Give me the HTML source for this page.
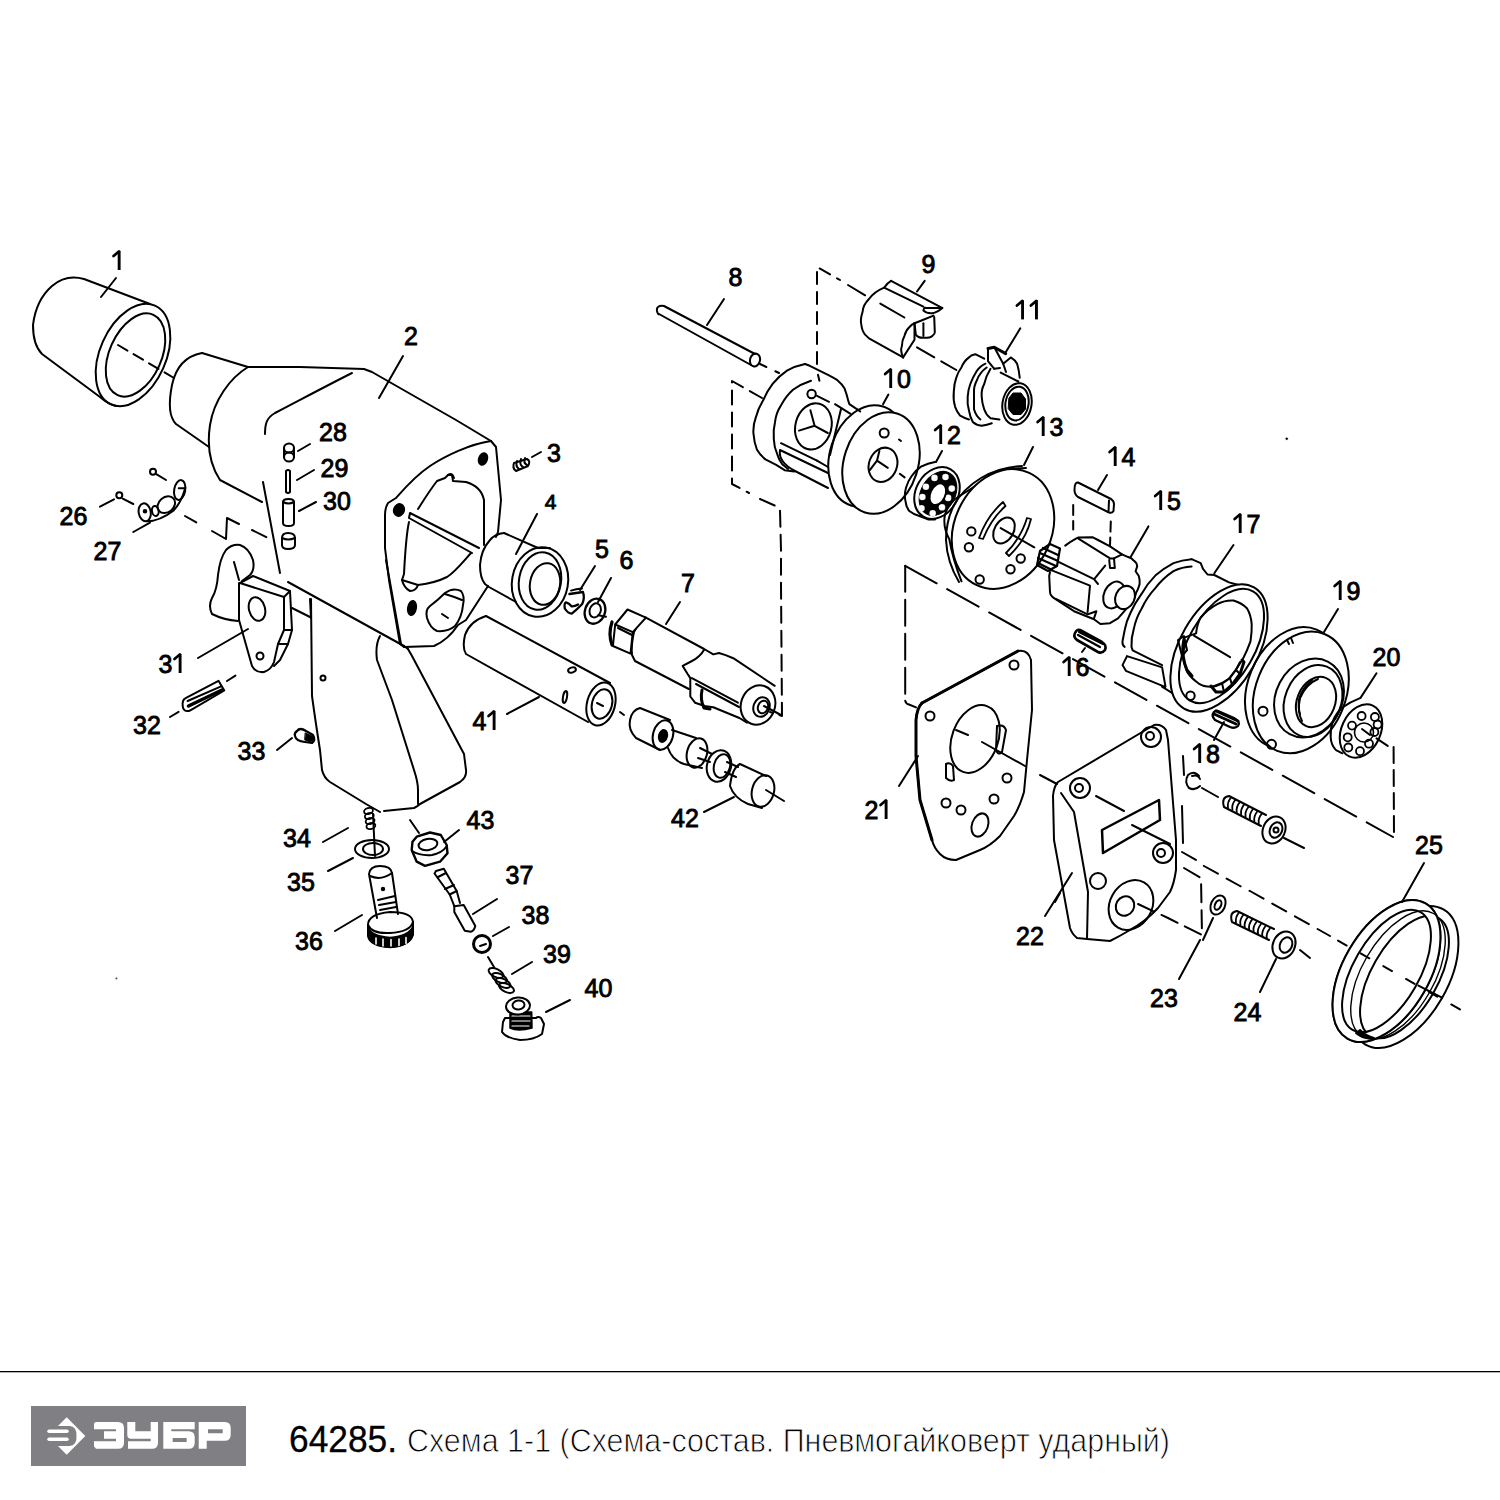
<!DOCTYPE html>
<html><head><meta charset="utf-8"><style>
html,body{margin:0;padding:0;background:#fff;width:1500px;height:1500px;overflow:hidden}
svg{position:absolute;left:0;top:0}
.lb text{font-family:"Liberation Sans",sans-serif;font-size:25px;fill:#000;stroke:#000;stroke-width:0.9px;text-anchor:middle}
</style></head><body>
<svg width="1500" height="1500" viewBox="0 0 1500 1500">
<g stroke="#000" stroke-linecap="round" stroke-linejoin="round" fill="none">
<path d="M150,304 L84,279 Q66,274 52,286 Q36,300 33,325 Q33,345 42,354 L100,397 Q108,404 116,406" stroke-width="2" fill="none" />
<ellipse cx="133" cy="355" rx="33" ry="54" transform="rotate(24 133 355)" stroke-width="2" fill="none"/>
<ellipse cx="135.5" cy="355" rx="26" ry="44" transform="rotate(24 135.5 355)" stroke-width="2" fill="none"/>
<path d="M116,278 L101,297" stroke-width="2" fill="none" />
<path d="M118,345 L174,378" stroke-width="2" fill="none" stroke-dasharray="11 7"/>
<path d="M202,353 C186,356 176,366 172,385 C168,405 170,418 176,424 L209,447" stroke-width="2" fill="none" />
<path d="M202,353 L248,367 L300,367 L364,369 L372,372 L456,420 L491,441" stroke-width="2" fill="none" />
<path d="M248,367 C230,378 214,400 210,425 C207,445 210,465 220,480 L262,502" stroke-width="2" fill="none" />
<path d="M352,373 C330,384 300,400 275,413 C266,418 265,425 265,434" stroke-width="2" fill="none" />
<path d="M263,482 L280,573" stroke-width="2" fill="none" />
<path d="M491,441 C470,444 445,456 430,466 C415,476 403,490 396,498 L388,503 Q385,508 385,515 L385,548 L389,580 L400,644 L404,647" stroke-width="2" fill="none" />
<path d="M491,441 L496,447 L498,468 L501,500 L498,532 L496,537" stroke-width="2" fill="none" />
<path d="M404,647 L434,646 Q448,640 458,625 L466,620 L488,586" stroke-width="2" fill="none" />
<ellipse cx="483" cy="459" rx="4" ry="6" transform="rotate(20 483 459)" stroke-width="2" fill="#000"/>
<ellipse cx="399" cy="510" rx="5" ry="6" transform="rotate(20 399 510)" stroke-width="2" fill="#000"/>
<ellipse cx="412" cy="608" rx="4" ry="7" transform="rotate(10 412 608)" stroke-width="2" fill="#000"/>
<path d="M418,509 C425,498 430,490 437,481 L445,478 L448,475 L452,475 L453,481 L466,482 C476,485 482,490 484,500 L484,545" stroke-width="2" fill="none" />
<path d="M448,475 Q452,472 454,478" stroke-width="2" fill="none" />
<path d="M410,513 L479,548 M409,518 L472,553 M410,513 L409,518" stroke-width="2" fill="none" />
<path d="M409,522 C406,535 405,555 404,574 L402,580 Q404,588 410,591 Q416,591 418,585 Q435,583 447,577 C455,572 462,563 471,553" stroke-width="2" fill="none" />
<path d="M402,580 L418,585" stroke-width="2" fill="none" />
<path d="M445,593 Q453,587 461,591 Q465,596 463,605 Q462,617 455,626 Q448,632 437,631 Q430,628 427,618 Q425,610 430,606 Q438,600 445,593 Z" stroke-width="2" fill="none" />
<path d="M445,594 Q455,597 462,600" stroke-width="2" fill="none" />
<path d="M442,614 L448,618" stroke-width="2" fill="none" />
<path d="M288,582 L404,646" stroke-width="2" fill="none" />
<path d="M404,646 L408,649" stroke-width="2" fill="none" />
<path d="M386,560 L401,644" stroke-width="2" fill="none" />
<path d="M311,599 L312,696 Q316,725 320,750 L322,770 Q324,778 330,782 L366,804 L380,812" stroke-width="2" fill="none" />
<path d="M384,811 L414,808 Q418,806 420,804 L460,782 Q467,777 466,770 L464,754 L412,656 L408,649" stroke-width="2" fill="none" />
<path d="M380,636 Q375,645 377,660 L392,700 L414,770 Q418,782 418,790 L418,804" stroke-width="2" fill="none" />
<circle cx="323" cy="678" r="2.5" stroke-width="2" fill="none"/>
<path d="M292,608 L310,617" stroke-width="2" fill="none" />
<path d="M310,599 L311,618" stroke-width="2" fill="none" />
<path d="M403,356 L379,398" stroke-width="2" fill="none" />
<ellipse cx="289" cy="448" rx="5" ry="4.5" stroke-width="2" fill="none"/>
<ellipse cx="289" cy="457" rx="5" ry="4.5" stroke-width="2" fill="none"/>
<path d="M284,448 L284,457 M294,448 L294,457" stroke-width="2" fill="none" />
<path d="M286,471 L286,492 Q288,494 290,492 L290,471 Q288,469 286,471 Z" stroke-width="2" fill="none" />
<path d="M283,502 Q283,499 288.5,499 Q294,499 294,502 L294,523 Q294,526 288.5,526 Q283,526 283,523 Z" stroke-width="2" fill="none" />
<path d="M283,502 Q288.5,505 294,502" stroke-width="2" fill="none" />
<path d="M282,538 Q282,533 288,533 Q295,533 295,538 L295,545 Q295,549 288,549 Q282,549 282,545 Z" stroke-width="2" fill="none" />
<path d="M282,538 Q288,541 295,538" stroke-width="2" fill="none" />
<path d="M298,451 L310,444" stroke-width="2" fill="none" />
<path d="M297,480 L314,470" stroke-width="2" fill="none" />
<path d="M299,511 L316,502" stroke-width="2" fill="none" />
<circle cx="153" cy="471.7" r="3" stroke-width="2" fill="none"/>
<path d="M156.7,474.3 L166,480" stroke-width="2" fill="none" />
<circle cx="119.3" cy="495.3" r="3" stroke-width="2" fill="none"/>
<path d="M122.7,498.7 L133.3,504" stroke-width="2" fill="none" />
<ellipse cx="144.7" cy="512.3" rx="6" ry="9" transform="rotate(-10 144.7 512.3)" stroke-width="2" fill="none"/>
<circle cx="145" cy="511.3" r="1.3" stroke-width="2" fill="#000"/>
<ellipse cx="155.3" cy="511" rx="3.3" ry="5" transform="rotate(-10 155.3 511)" stroke-width="2" fill="none"/>
<ellipse cx="166.3" cy="504.7" rx="7.5" ry="9.5" transform="rotate(50 166.3 504.7)" stroke-width="2" fill="none"/>
<ellipse cx="179.7" cy="490" rx="5.5" ry="10" transform="rotate(10 179.7 490)" stroke-width="2" fill="none"/>
<path d="M146.7,521.3 Q160,521 173.3,510.7 Q181,503 185.3,488" stroke-width="2" fill="none" />
<path d="M178.7,488.3 L184.7,488.3" stroke-width="2" fill="none" />
<path d="M100,506.7 L114,499.3" stroke-width="2" fill="none" />
<path d="M133.3,532 L150,522.7" stroke-width="2" fill="none" />
<path d="M185,516 L201,525" stroke-width="2" fill="none" stroke-dasharray="13 20"/>
<path d="M212,531 L226,539 L227,518 L239,524" stroke-width="2" fill="none" />
<path d="M252,530 L268,538" stroke-width="2" fill="none" stroke-dasharray="16 6"/>
<path d="M238,621 Q224,620 212,614 Q208,606 212,598 Q217,590 218,575 Q220,558 226,550 Q232,544 240,545 Q249,548 253,560 Q255,570 250,575 L242,581" stroke-width="2" fill="none" />
<path d="M234,562 L239,580" stroke-width="2" fill="none" />
<path d="M240,583 L253,576 L290,591 L284,597 Z" stroke-width="2" fill="none" />
<path d="M239,583 L239,620 L252,666 Q256,673 264,672 Q271,670 274,662 L278,644 L284,630 L284,597" stroke-width="2" fill="none" />
<path d="M290,591 L292,630 L288,644 L280,660 L274,666" stroke-width="2" fill="none" />
<path d="M284,630 L292,630 M278,644 L288,644" stroke-width="2" fill="none" />
<ellipse cx="257" cy="609" rx="8" ry="12" transform="rotate(-15 257 609)" stroke-width="2" fill="none"/>
<circle cx="260" cy="656" r="3.5" stroke-width="2" fill="none"/>
<path d="M198,658 L248,629" stroke-width="2" fill="none" />
<path d="M185.6,698.2 L218.5,680.8 L224.3,690.5 L189.5,710.8 Q183,712 182.7,706 Q182,700 185.6,698.2 Z" stroke-width="2" fill="none" />
<path d="M187.6,701 L220.5,686.6" stroke-width="2" fill="none" />
<path d="M188.5,706 L222,690" stroke-width="3.5" fill="none" />
<path d="M170,717 L180,711" stroke-width="2" fill="none" stroke-dasharray="10 5"/>
<path d="M227,681 L238,674" stroke-width="2" fill="none" stroke-dasharray="10 5"/>
<path d="M297,731 Q300,727 306,731 L313,735 Q316,740 312,743 L305,742 Q296,741 295,736 Q294,733 297,731 Z" stroke-width="2.2" fill="none" />
<path d="M305.5,733 L313,736.5 Q314,741 310,742 L305,740 Z" stroke-width="1" fill="#000" />
<path d="M277,750 L292,738" stroke-width="2" fill="none" />
<circle cx="116.4" cy="978.4" r="0.9" stroke-width="0.1" fill="#555"/>
<path d="M514,463 Q512,468 516,471 L528,466 Q531,461 527,459 Z" stroke-width="2" fill="none" />
<path d="M517,461 Q515,466 519,469 M521,459 Q519,465 523,467 M525,458 Q523,463 527,465" stroke-width="2" fill="none" />
<path d="M532,457 L541,452" stroke-width="2" fill="none" />
<path d="M504,533 Q495,534 490,540 Q481,550 480,565 Q480,578 485,584 L489,587 L516,602" stroke-width="2" fill="none" />
<path d="M504,533 L538,548 L550,548" stroke-width="2" fill="none" />
<ellipse cx="540" cy="582" rx="28" ry="35" transform="rotate(10 540 582)" stroke-width="2" fill="none"/>
<ellipse cx="540" cy="581" rx="21" ry="29" transform="rotate(10 540 581)" stroke-width="2" fill="none"/>
<ellipse cx="545" cy="584" rx="15" ry="21" transform="rotate(10 545 584)" stroke-width="2" fill="none"/>
<path d="M537,514 L516,554" stroke-width="2" fill="none" />
<path d="M569.4,594 L583,592 Q585,598 582.2,604 Q577,609.5 571.8,613.6 Q568,613.5 564.8,608.5 Q564,603 566,602.4 Q569,603 571.8,606.4 Q575,606.5 578,604.5" stroke-width="2.3" fill="none" />
<path d="M571,590.6 Q576,589.2 582,588.6" stroke-width="2" fill="none" />
<path d="M595,566 L580,590" stroke-width="2" fill="none" />
<ellipse cx="595" cy="611.2" rx="10" ry="12.8" transform="rotate(20 595 611.2)" stroke-width="2.3" fill="none"/>
<ellipse cx="595.2" cy="610.4" rx="5.5" ry="7.2" transform="rotate(20 595.2 610.4)" stroke-width="2" fill="none"/>
<path d="M611,578 L598,602" stroke-width="2" fill="none" />
<path d="M598.3,615.3 L606,616.8" stroke-width="2" fill="none" />
<path d="M645.9,617.6 Q638,623 634,632 Q631,645 632,655 L635,661 L688.8,689" stroke-width="2" fill="none" />
<path d="M615.2,624.5 L627.5,609.5 L645.9,617.6 L632.8,632.1 Z" stroke-width="2" fill="#fff" />
<path d="M615.2,624.5 L612.9,646 L630.5,653.6 L632.8,632.1" stroke-width="2" fill="none" />
<path d="M612,622 Q608,634 612,645" stroke-width="3.2" fill="none" />
<path d="M618,628 L632,635" stroke-width="2" fill="none" />
<path d="M645.9,617.6 L704.1,649 L713.3,654.4 L719,653 L725.6,655.1 L733.3,658.2 L774.7,685.8" stroke-width="2" fill="none" />
<path d="M704.1,649.8 Q700,657 692,661 L682.7,665.9 L687.3,673.5 L690.3,678.1 L690.3,696.5 L695,702.7 L704.1,705.7" stroke-width="2" fill="none" />
<path d="M691.9,678.1 L737.9,702.7 M696,684 L739,707" stroke-width="2" fill="none" />
<path d="M702,690 Q700,700 704,708 L710,709" stroke-width="3" fill="none" />
<path d="M704,706 L713.3,707.3 L739.4,718 L747,722.6" stroke-width="2" fill="none" />
<ellipse cx="758" cy="705" rx="17" ry="20" transform="rotate(20 758 705)" stroke-width="2" fill="#fff"/>
<ellipse cx="761.5" cy="707" rx="8" ry="10" transform="rotate(20 761.5 707)" stroke-width="2" fill="none"/>
<ellipse cx="763" cy="707" rx="5" ry="6.5" transform="rotate(20 763 707)" stroke-width="2" fill="none"/>
<path d="M764,706 L781,715" stroke-width="2" fill="none" />
<path d="M680,602 L666,624" stroke-width="2" fill="none" />
<path d="M486,616 Q470,621 465,635 Q462,648 466,654 L588,722" stroke-width="2" fill="none" />
<path d="M486,616 L610,683" stroke-width="2" fill="none" />
<ellipse cx="601" cy="704" rx="14" ry="22" transform="rotate(15 601 704)" stroke-width="2" fill="none"/>
<ellipse cx="602" cy="704" rx="10" ry="15" transform="rotate(15 602 704)" stroke-width="2" fill="none"/>
<path d="M597,703 L603,706" stroke-width="2" fill="none" />
<ellipse cx="572" cy="670" rx="4" ry="2.5" transform="rotate(-20 572 670)" stroke-width="2" fill="none"/>
<ellipse cx="565" cy="697" rx="2" ry="6" transform="rotate(10 565 697)" stroke-width="2" fill="none"/>
<path d="M507,714 L539,697" stroke-width="2" fill="none" />
<path d="M620,712 L624,715" stroke-width="2" fill="none" />
<path d="M640,708 L670,720 M630,720 Q628,730 636,738 L660,750 M640,708 Q632,710 630,720" stroke-width="2" fill="none" />
<ellipse cx="663" cy="735" rx="10" ry="15" transform="rotate(15 663 735)" stroke-width="2" fill="none"/>
<ellipse cx="663" cy="736" rx="4" ry="6" transform="rotate(15 663 736)" stroke-width="2" fill="#000"/>
<path d="M672,730 L696,738 M668,748 Q672,760 684,764 L702,768" stroke-width="2" fill="none" />
<ellipse cx="697" cy="753" rx="10" ry="15" transform="rotate(15 697 753)" stroke-width="2" fill="none"/>
<path d="M700,748 L712,754 M698,758 L710,762" stroke-width="2" fill="none" />
<ellipse cx="719" cy="766" rx="12" ry="16" transform="rotate(15 719 766)" stroke-width="2" fill="none"/>
<ellipse cx="722" cy="766" rx="8" ry="12" transform="rotate(15 722 766)" stroke-width="2" fill="none"/>
<path d="M727,762 L738,767 M725,772 L736,777" stroke-width="2" fill="none" />
<path d="M740,764 L766,776 M730,786 Q734,798 748,804 L762,808 M740,764 Q732,768 730,786" stroke-width="2" fill="none" />
<ellipse cx="763" cy="791" rx="11" ry="16" transform="rotate(15 763 791)" stroke-width="2" fill="none"/>
<path d="M766,790 L784,801" stroke-width="2" fill="none" />
<path d="M704,812 L734,797" stroke-width="2" fill="none" />
<path d="M664,306 L755,354 M659,314 L751,365 M664,306 Q656,305 657,311 Q658,315 659,314" stroke-width="2" fill="none" />
<ellipse cx="755" cy="360" rx="5" ry="6.5" transform="rotate(15 755 360)" stroke-width="2" fill="none"/>
<path d="M760,364 L779,373" stroke-width="2" fill="none" stroke-dasharray="7 10"/>
<path d="M724,299 L707,325" stroke-width="2" fill="none" />
<path d="M817,364 L817,267 L840,280" stroke-width="2" fill="none" stroke-dasharray="12 8"/>
<path d="M848,285 L868,297" stroke-width="2" fill="none" stroke-dasharray="20 6"/>
<path d="M762,398 L732,381 L732,484 L749,493" stroke-width="2" fill="none" stroke-dasharray="14 8"/>
<path d="M760,499 L778,507 L780,510 L781,550 L781,586 L782,716 L770,712" stroke-width="2" fill="none" stroke-dasharray="16 8"/>
<path d="M891.1,280.8 L941.1,307.4 L942.4,308 Q938,312 933.5,313.1 Q927,314 923.4,310.5 Q924,307 926,308 L941,308" stroke-width="2" fill="none" />
<path d="M891.1,280.8 Q887,283 884.1,287.7 L923.4,306.7" stroke-width="2" fill="none" />
<path d="M884.1,287.7 Q874,292 869,299 Q863,305 862.6,311.8 Q860,320 861.3,324.5 Q862,331 865.1,334.6 L869,338.4 L903.1,357.4" stroke-width="2" fill="none" />
<path d="M903.1,357.4 Q900,351 901.9,346 Q902,340 904.4,335.9 Q906,330 909.5,327 Q912,324 914.5,323.2 L920.9,320.7 L933.5,315.6" stroke-width="2" fill="none" />
<path d="M903.1,357.4 L914.5,339.7 L914.5,323.2" stroke-width="2" fill="none" />
<path d="M914.5,323.2 L915.8,334.6 Q918,338 923.4,337.8 Q930,338 932.3,335.9 Q935,334 934.8,332.1 L934.2,316.9" stroke-width="2" fill="none" />
<path d="M923.4,323.2 L923.4,335.9" stroke-width="2" fill="none" />
<path d="M880.3,303.6 L904.4,317.5" stroke-width="2" fill="none" />
<path d="M924.7,280.8 L917,291.5" stroke-width="2" fill="none" />
<path d="M917,347.3 L956.3,370" stroke-width="2" fill="none" stroke-dasharray="20 8"/>
<path d="M805,364 Q795,366 787,370.6 Q779,376 772.6,383.8 Q767,391 763,400.6 Q758,409 755.8,417.4 Q753,425 753.4,433 Q754,442 757,449.8 Q760,455 765.4,459.4 L776.2,464.8 L784.6,470.2 L794.2,471.4" stroke-width="2" fill="none" />
<path d="M805,364 L809.8,365.8 L829,375.4 Q834,378 837.4,380.2 Q842,384 844.6,388.6 Q847,395 848.2,400.6 L849.4,404.2 L860.2,411.4" stroke-width="2" fill="none" />
<path d="M818,374.8 L819.4,380.8" stroke-width="2" fill="none" />
<path d="M811,380.8 Q801,384 793,389.8 Q786,396 781,405.4 Q776,413 775,422.2 Q773,430 773.8,439 Q774,447 777.4,454.6 Q779,460 782.2,464.2 L788.2,469" stroke-width="2" fill="none" />
<circle cx="811.6" cy="394" r="4.2" stroke-width="2" fill="none"/>
<ellipse cx="813.4" cy="426.4" rx="18" ry="23.4" transform="rotate(15 813.4 426.4)" stroke-width="2" fill="none"/>
<path d="M799,430.6 L814.6,425.8 L827.8,433 M810.4,410.2 L814.6,425.8" stroke-width="2" fill="none" />
<path d="M817,395.8 L829,401.8" stroke-width="2" fill="none" />
<path d="M835,404.2 L850.6,413.8" stroke-width="2" fill="none" />
<path d="M841,409 L830,455" stroke-width="2" fill="none" />
<path d="M781,443.2 L817,460.6" stroke-width="2" fill="none" />
<path d="M817,460.6 L828,467" stroke-width="2" fill="none" />
<path d="M780,450 L828,473 M795,471 L828,488 M780,450 Q778,462 795,471" stroke-width="2" fill="none" />
<ellipse cx="867" cy="456" rx="37" ry="52" transform="rotate(18 867 456)" stroke-width="2" fill="none"/>
<ellipse cx="881" cy="463" rx="37" ry="52" transform="rotate(18 881 463)" stroke-width="2" fill="#fff"/>
<circle cx="884.2" cy="433" r="4.5" stroke-width="2" fill="none"/>
<path d="M899,439.5 L901,441" stroke-width="2" fill="none" />
<ellipse cx="883" cy="464.8" rx="14" ry="17.5" transform="rotate(20 883 464.8)" stroke-width="2" fill="none"/>
<path d="M877,460.6 L887.8,467.8 M877,460.6 L879.4,451 M877,460.6 L869.8,470.2" stroke-width="2" fill="none" />
<path d="M899.8,473.8 L904.6,477.4" stroke-width="2" fill="none" />
<path d="M888.4,394.6 L883,404.2" stroke-width="2" fill="none" />
<path d="M984.2,358.7 L975.3,354.2 Q971,355 969,357.4 Q964,361 961.4,367.5 Q958,372 956.3,377.7 Q954,384 953.8,391.6 Q953,400 955.1,406.8 Q957,412 960.1,415.7 Q964,418 969,419.5" stroke-width="2" fill="none" />
<path d="M985.5,363.7 Q980,366 976.6,371.3 Q973,377 970.3,384 Q968,390 967.7,396.7 Q967,404 969,410.6 Q970,417 972.8,422 Q976,425 981.7,425.8 Q987,425 991.8,423.3" stroke-width="2" fill="none" />
<path d="M986.7,367.5 Q980,372 977,380 Q974,386 974,390.3 L974,409.3 Q976,416 980.4,419.5" stroke-width="2" fill="none" />
<path d="M990.5,368.8 Q986,376 984.2,384 Q981,390 981.7,396.7 Q982,403 984.2,409.3 Q986,415 990.5,418.2 L999.4,419.5" stroke-width="2" fill="none" />
<path d="M1000.7,372.6 L1018.4,381.5" stroke-width="2" fill="none" />
<ellipse cx="1017" cy="404" rx="14.5" ry="21" transform="rotate(10 1017 404)" stroke-width="2" fill="#fff"/>
<ellipse cx="1017" cy="403.6" rx="11.5" ry="17" transform="rotate(10 1017 403.6)" stroke-width="2" fill="none"/>
<path d="M1009,398 L1013,393 L1021,393 L1025.5,399 L1025.5,409 L1021,414.5 L1013,414.5 L1008.5,409 Z" stroke-width="1" fill="#000" />
<path d="M988,348.5 L994.3,347.3 L1005.7,353.6" stroke-width="3" fill="none" />
<path d="M988,348.5 L988,361.2 L994.3,368.8 M994.3,347.3 L1003.2,363.7 L1010.8,357.4 Q1015,360 1017.1,363.7 Q1019,370 1019.7,377.7" stroke-width="2" fill="none" />
<path d="M1003.2,363.7 L1006,372 M994.3,368.8 L1000,368" stroke-width="2" fill="none" />
<path d="M1020.3,328.3 L1005.7,352.3" stroke-width="2" fill="none" />
<path d="M935,462 Q928,463 921,466.7 Q916,470 911.7,476 Q908,481 906,487.7 Q904,495 905.6,501.7 Q906,507 909.3,511 Q913,514 918.7,515.7 L928,519.4 L935,519.4" stroke-width="2" fill="none" />
<ellipse cx="937" cy="493" rx="21" ry="27.3" transform="rotate(30 937 493)" stroke-width="2" fill="#fff"/>
<ellipse cx="938" cy="493.5" rx="17" ry="23.5" transform="rotate(30 938 493.5)" stroke-width="1" fill="#000"/>
<circle cx="934.5" cy="477.9" r="3.3" stroke-width="0.1" fill="#fff"/>
<circle cx="945.5" cy="477" r="3.3" stroke-width="0.1" fill="#fff"/>
<circle cx="925.9" cy="486.7" r="3.3" stroke-width="0.1" fill="#fff"/>
<circle cx="951.8" cy="488.6" r="3.3" stroke-width="0.1" fill="#fff"/>
<circle cx="922.4" cy="497" r="3.3" stroke-width="0.1" fill="#fff"/>
<circle cx="948.1" cy="497.9" r="3.3" stroke-width="0.1" fill="#fff"/>
<circle cx="921.5" cy="508.2" r="3.3" stroke-width="0.1" fill="#fff"/>
<circle cx="942" cy="507.3" r="3.3" stroke-width="0.1" fill="#fff"/>
<circle cx="932.7" cy="513.3" r="3.3" stroke-width="0.1" fill="#fff"/>
<ellipse cx="937.8" cy="494.2" rx="7.5" ry="11.5" transform="rotate(25 937.8 494.2)" stroke-width="2" fill="#fff"/>
<path d="M942,451 L936,462" stroke-width="2" fill="none" />
<circle cx="1286.7" cy="438.7" r="1" stroke-width="0.5" fill="#000"/>
<path d="M1026,468 Q1000,468 980,483 L955,499 Q947,506 944.7,516 Q943,528 949.3,539.3 Q953,560 961.5,581.3" stroke-width="2" fill="none" />
<path d="M1022,466 Q1000,467 981,478 Q963,489 954,505 Q946,521 946,540 Q947,562 959,582" stroke-width="2" fill="none" />
<ellipse cx="1003" cy="529" rx="48.5" ry="62" transform="rotate(25 1003 529)" stroke-width="2" fill="#fff"/>
<circle cx="971.3" cy="531.4" r="4.2" stroke-width="2" fill="none"/>
<circle cx="968.9" cy="547.3" r="4.2" stroke-width="2" fill="none"/>
<circle cx="979.7" cy="579.5" r="4.2" stroke-width="2" fill="none"/>
<circle cx="1010.5" cy="569.2" r="4.2" stroke-width="2" fill="none"/>
<circle cx="1020.7" cy="558.5" r="4.2" stroke-width="2" fill="none"/>
<path d="M979,538 Q987,516 1003,502 L1005.5,506 Q991,519 983,539 Z" stroke-width="1.8" fill="none" />
<path d="M1006,553 Q1021,538 1027,518 L1031,519 Q1026,540 1009,556 Z" stroke-width="1.8" fill="none" />
<ellipse cx="1004" cy="530.5" rx="9.5" ry="14" transform="rotate(30 1004 530.5)" stroke-width="2" fill="none"/>
<path d="M1000.7,528.1 L1034.3,547.3" stroke-width="2" fill="none" />
<path d="M1033,447 L1024,465" stroke-width="2" fill="none" />
<path d="M1078,482.5 L1111,499 Q1114,501 1114,504 L1113.5,511 Q1112,513.5 1109,512.5 L1078,497 Q1074.5,494.5 1074.5,490 Q1074.5,482 1078,482.5 Z" stroke-width="2" fill="none" />
<path d="M1109,500.5 L1108.5,512" stroke-width="2" fill="none" />
<path d="M1073.2,505 L1073.2,529.6" stroke-width="2" fill="none" stroke-dasharray="10 6"/>
<path d="M1110.8,521.6 L1110,545.6" stroke-width="2" fill="none" stroke-dasharray="10 6"/>
<path d="M1107,475 L1098,490" stroke-width="2" fill="none" />
<path d="M1065.2,545.6 Q1070,542 1076.4,538.4 L1078,537.6 L1092.4,537.2 L1098,540 L1110,546.4 L1122,554.4 L1127.6,556.8 Q1132,558 1134,560.8 Q1137,563 1137.2,566.4 L1135.6,571.2 L1138.8,576 Q1140,580 1139.6,584 Q1138,590 1136.4,592 L1134,600 L1130,604 L1124.4,611.2 L1118,618.4 L1110,623.2 L1100.4,624 L1094,619.2 L1074,611.2 L1055.6,599.2 Q1050,596 1050,592 L1049.2,576 L1050,572" stroke-width="2" fill="none" />
<path d="M1078,538.4 L1110,558.4 L1114,558.4 L1114.8,568 L1110,568 L1109.2,560" stroke-width="2" fill="none" />
<path d="M1122,554.4 L1114,558.4" stroke-width="2" fill="none" />
<path d="M1058,561.6 L1094,579.2 L1098,584" stroke-width="2" fill="none" />
<path d="M1105.2,565.6 L1094.8,578.4" stroke-width="2" fill="none" />
<path d="M1050,569.6 L1090,585.6 L1087.6,612 M1056.4,599.2 L1087.6,614.4 L1096.4,611.2 L1094,618.4" stroke-width="2" fill="none" />
<ellipse cx="1114" cy="595" rx="10" ry="14" transform="rotate(25 1114 595)" stroke-width="2" fill="none"/>
<ellipse cx="1125" cy="597.5" rx="9.5" ry="12" transform="rotate(25 1125 597.5)" stroke-width="2" fill="#fff"/>
<path d="M1040,551 L1050,544 L1060,548.5 L1057,566 L1048,571 L1037,565 Z" stroke-width="2.2" fill="none" />
<path d="M1043,548 L1058,555 M1040,553 L1058,561 M1038,558 L1056,566 M1038,563 L1052,570" stroke-width="2.2" fill="none" />
<path d="M1148.4,526.4 L1130.8,556.8" stroke-width="2" fill="none" />
<path d="M905.2,565.8 L1393,837" stroke-width="2" fill="none" stroke-dasharray="36 12"/>
<path d="M1080,630 L1102,642 Q1107,645 1105,650 Q1102,654 1098,652 L1077,640 Q1073,637 1075,633 Q1077,629 1080,630 Z" stroke-width="2.6" fill="none" />
<path d="M1078,635 L1100,647 M1079,632 L1103,644" stroke-width="2.2" fill="none" />
<path d="M1082,652 L1085,648" stroke-width="2" fill="none" />
<path d="M1191.6,559.2 Q1182,560 1173.5,563.1 Q1164,568 1155.3,575.6 Q1147,584 1141.7,593.7 Q1135,603 1130.4,613 Q1126,622 1124.7,630 L1122.5,641.3 Q1122,645 1124.7,647" stroke-width="2" fill="none" />
<path d="M1191.6,566.5 Q1182,567 1173.5,571.1 Q1163,578 1155.3,588.1 Q1147,597 1141.7,608.5 Q1136,618 1133.8,628.9 Q1131,638 1131.5,647 L1132.7,650.4 L1162.1,665.1" stroke-width="2" fill="none" />
<path d="M1127,656.1 L1162.1,667.4 L1165.5,686.7 M1127,656.1 L1122.5,665.1 L1125.9,670.8 L1164.4,686.7 M1162,686.7 L1180,698" stroke-width="2" fill="none" />
<path d="M1191.6,559.2 L1200.7,563.1 L1203,568.8 L1207.5,574.5 L1214.3,575 L1229,582.4 L1241.5,585.8" stroke-width="2" fill="none" />
<ellipse cx="1219" cy="648" rx="39" ry="70" transform="rotate(30 1219 648)" stroke-width="2" fill="#fff"/>
<ellipse cx="1221.5" cy="646" rx="33" ry="63" transform="rotate(30 1221.5 646)" stroke-width="2" fill="none"/>
<path d="M1233.5,600.5 Q1242,603 1247.1,608.5 Q1251,615 1251.7,624.3 Q1252,632 1250.5,641.3 Q1247,651 1242.6,659.5 Q1236,670 1229,678.7 Q1220,686 1212,686.7 Q1204,687 1198.4,683.3 Q1191,678 1187.1,671.9 Q1183,662 1182.5,652.7 Q1182,644 1183.7,637.9 L1196.1,633.4 Q1197,624 1200.7,617.5 Q1208,609 1217.7,603.9 Q1225,600 1233.5,600.5 Z" stroke-width="2" fill="none" />
<path d="M1193.9,635.7 L1230.1,657.2" stroke-width="2" fill="none" />
<path d="M1184,642 Q1181,656 1187,670 L1192,676" stroke-width="3" fill="none" />
<path d="M1178,640 L1184,636 L1187,650 L1182,656 Z" stroke-width="2" fill="none" />
<path d="M1211,686 L1216,692 L1224,692 L1232,685 L1240,674 L1244,662 L1242,660" stroke-width="3" fill="none" />
<path d="M1212,687 L1222,683 L1224,692 M1222,683 L1230,678 L1232,685 M1230,678 L1236,670 L1240,674 M1236,670 L1240,662" stroke-width="2" fill="none" />
<circle cx="1190.5" cy="695.7" r="4.2" stroke-width="2" fill="none"/>
<path d="M1233.5,545 L1214.3,573.3" stroke-width="2" fill="none" />
<path d="M1218,711 L1234,718 Q1241,722 1238,726 Q1235,729 1230,727 L1215,720 Q1211,716 1214,712 Q1216,710 1218,711 Z" stroke-width="2.4" fill="none" />
<path d="M1214,714 L1236,724 M1216,711 L1238,721" stroke-width="3" fill="none" />
<path d="M1214,740 L1224,722" stroke-width="2" fill="none" />
<ellipse cx="1293" cy="688" rx="45" ry="63" transform="rotate(22 1293 688)" stroke-width="2" fill="none"/>
<ellipse cx="1300.8" cy="692.4" rx="45" ry="63" transform="rotate(22 1300.8 692.4)" stroke-width="2" fill="#fff"/>
<path d="M1287,640 L1289,644" stroke-width="2" fill="none" />
<path d="M1291,638 L1293,643" stroke-width="2" fill="none" />
<ellipse cx="1309" cy="698" rx="33" ry="41" transform="rotate(28 1309 698)" stroke-width="2" fill="none"/>
<ellipse cx="1313" cy="701" rx="28" ry="37" transform="rotate(22 1313 701)" stroke-width="2" fill="none"/>
<ellipse cx="1316" cy="702" rx="19" ry="26" transform="rotate(22 1316 702)" stroke-width="2" fill="none"/>
<path d="M1318,679 Q1306,684 1300,698 Q1297,712 1302,721" stroke-width="2" fill="none" />
<path d="M1312,680 Q1303,688 1299,700 Q1298,708 1300,714" stroke-width="2" fill="none" />
<path d="M1307,685 Q1301,692 1299,700" stroke-width="2" fill="none" />
<circle cx="1263" cy="711.2" r="4.5" stroke-width="2" fill="none"/>
<circle cx="1271.5" cy="744.3" r="4.5" stroke-width="2" fill="none"/>
<path d="M1338,609 L1324,632" stroke-width="2" fill="none" />
<path d="M1359.5,698.4 Q1350,702 1342.4,707.5 Q1336,713 1332.8,721.3 Q1330,729 1330.7,737.3 Q1331,745 1336,750.1 L1342.4,753.3" stroke-width="2" fill="none" />
<ellipse cx="1361" cy="731" rx="19.5" ry="28" transform="rotate(25 1361 731)" stroke-width="2" fill="#fff"/>
<circle cx="1361.6" cy="716" r="4" stroke-width="1.8" fill="none"/>
<circle cx="1374.9" cy="717" r="4" stroke-width="1.8" fill="none"/>
<circle cx="1352" cy="725.6" r="4" stroke-width="1.8" fill="none"/>
<circle cx="1347.7" cy="737.3" r="4" stroke-width="1.8" fill="none"/>
<circle cx="1348.3" cy="747.5" r="4" stroke-width="1.8" fill="none"/>
<circle cx="1360" cy="751.2" r="4" stroke-width="1.8" fill="none"/>
<circle cx="1369" cy="743.7" r="4" stroke-width="1.8" fill="none"/>
<circle cx="1374.4" cy="732" r="4" stroke-width="1.8" fill="none"/>
<circle cx="1377.6" cy="724.5" r="4" stroke-width="1.8" fill="none"/>
<circle cx="1364" cy="732.5" r="9.5" stroke-width="1.6" fill="none"/>
<path d="M1362,729 L1370,735" stroke-width="2" fill="none" />
<path d="M1376.5,673.3 L1360.5,697.9" stroke-width="2" fill="none" />
<path d="M1376.5,738.4 L1387.7,745.9" stroke-width="2" fill="none" />
<path d="M1393.6,747 L1394,837" stroke-width="2" fill="none" stroke-dasharray="16 7"/>
<path d="M922,703 L1018,651 Q1028,649 1031,660 L1032,710 L1027,760 L1024,792 Q1020,806 1014,816 L1000,836 Q990,846 980,850 L956,860 Q946,860 940,854 Q934,848 932,840 L920,800 L916,756 L916,720 Q917,708 922,703 Z" stroke-width="2" fill="none" />
<path d="M922,703 L1018,651" stroke-width="3" fill="none" />
<path d="M922,703 Q917,708 916,720 L916,756 L920,800 L932,840" stroke-width="3" fill="none" />
<circle cx="1014" cy="665" r="4.5" stroke-width="2" fill="none"/>
<circle cx="930" cy="716" r="4.5" stroke-width="2" fill="none"/>
<circle cx="1007" cy="778" r="4.5" stroke-width="2" fill="none"/>
<circle cx="946" cy="803" r="4.5" stroke-width="2" fill="none"/>
<circle cx="961" cy="810" r="4.5" stroke-width="2" fill="none"/>
<circle cx="994" cy="799" r="4.5" stroke-width="2" fill="none"/>
<ellipse cx="980" cy="825" rx="8" ry="12" transform="rotate(20 980 825)" stroke-width="2" fill="none"/>
<ellipse cx="975" cy="739" rx="23" ry="35" transform="rotate(20 975 739)" stroke-width="2" fill="none"/>
<path d="M997,726 Q1004,724 1006,730 L1002,752 Q998,756 996,750 Z" stroke-width="2" fill="none" />
<path d="M946,764 Q950,762 953,766 L954,780 Q950,782 946,778 Z" stroke-width="2" fill="none" />
<path d="M956,730 L968,735" stroke-width="2" fill="none" />
<path d="M982,742 L1025,766" stroke-width="2" fill="none" />
<path d="M899,786 L918,756" stroke-width="2" fill="none" />
<path d="M905.2,565.8 L905.2,700.8" stroke-width="2" fill="none" stroke-dasharray="26 8"/>
<path d="M905.2,700.8 Q906,704 909,704.5 L916,707.4" stroke-width="2" fill="none" />
<path d="M1058,782 L1154,725 Q1162,724 1166,730 L1168,740 L1176,840 L1176,870 Q1174,884 1170,892 L1158,908 Q1145,922 1130,930 Q1120,936 1110,941 L1087,939 L1077,938 Q1072,934 1070,928 L1054,840 L1053,796 Q1054,786 1058,782 Z" stroke-width="2" fill="none" />
<path d="M1061,793 L1074,812 L1088,892 L1087,939" stroke-width="2" fill="none" />
<path d="M1102,830 L1159,800 L1160,820 L1103,853 Z" stroke-width="2.5" fill="none" />
<circle cx="1080" cy="788" r="10" stroke-width="2" fill="none"/>
<circle cx="1079" cy="788" r="4" stroke-width="2" fill="none"/>
<circle cx="1151" cy="737" r="10" stroke-width="2" fill="none"/>
<circle cx="1150" cy="736" r="4" stroke-width="2" fill="none"/>
<circle cx="1163" cy="853" r="10" stroke-width="2" fill="none"/>
<circle cx="1161" cy="853" r="4" stroke-width="2" fill="none"/>
<circle cx="1098" cy="881" r="8" stroke-width="2" fill="none"/>
<ellipse cx="1131" cy="905" rx="21" ry="26" transform="rotate(30 1131 905)" stroke-width="2" fill="none"/>
<ellipse cx="1125" cy="906" rx="9" ry="10" transform="rotate(30 1125 906)" stroke-width="2" fill="none"/>
<path d="M1040,775 L1057,784" stroke-width="2" fill="none" />
<path d="M1096,796 L1124,811" stroke-width="2" fill="none" />
<path d="M1132,825 L1170,844" stroke-width="2" fill="none" />
<path d="M1045,916 L1072,873" stroke-width="2" fill="none" />
<path d="M1055,902 L1060,893" stroke-width="2" fill="none" />
<path d="M1182,852 L1196,860 L1204,866 L1240,886 L1250,891 L1330,936" stroke-width="2" fill="none" stroke-dasharray="16 10"/>
<path d="M1184,868 L1201,878 L1202,935 L1168,918 L1138,904" stroke-width="2" fill="none" stroke-dasharray="18 8"/>
<path d="M1183,756 L1184,775" stroke-width="2" fill="none" stroke-dasharray="19 1"/>
<path d="M1182,806 L1183,843" stroke-width="2" fill="none" stroke-dasharray="37 1"/>
<path d="M1199,776 Q1194,770 1188,775 Q1184,782 1189,788 Q1195,791 1200,786 M1192,776 Q1198,774 1200,779" stroke-width="2" fill="none" />
<path d="M1202,788 L1218,797" stroke-width="2" fill="none" />
<path d="M1229,796 L1266,815 M1224,807 L1261,826 M1229,796 Q1221,797 1224,807" stroke-width="2" fill="none" />
<path d="M1231.0,797.5 Q1227.0,802.5 1228.0,807.5" stroke-width="1.8" fill="none" />
<path d="M1235.4,799.8 Q1231.4,804.8 1232.4,809.8" stroke-width="1.8" fill="none" />
<path d="M1239.8,802.1 Q1235.8,807.1 1236.8,812.1" stroke-width="1.8" fill="none" />
<path d="M1244.2,804.4 Q1240.2,809.4 1241.2,814.4" stroke-width="1.8" fill="none" />
<path d="M1248.6,806.7 Q1244.6,811.7 1245.6,816.7" stroke-width="1.8" fill="none" />
<path d="M1253.0,809.0 Q1249.0,814.0 1250.0,819.0" stroke-width="1.8" fill="none" />
<path d="M1257.4,811.3 Q1253.4,816.3 1254.4,821.3" stroke-width="1.8" fill="none" />
<path d="M1261.8,813.6 Q1257.8,818.6 1258.8,823.6" stroke-width="1.8" fill="none" />
<ellipse cx="1274" cy="830" rx="11" ry="14" transform="rotate(25 1274 830)" stroke-width="2" fill="none"/>
<ellipse cx="1276" cy="830" rx="6" ry="8" transform="rotate(25 1276 830)" stroke-width="2" fill="none"/>
<circle cx="1276" cy="830" r="2.5" stroke-width="2" fill="none"/>
<path d="M1284,838 L1304,848" stroke-width="2" fill="none" />
<ellipse cx="1218" cy="905" rx="7" ry="10" transform="rotate(25 1218 905)" stroke-width="2" fill="none"/>
<ellipse cx="1218" cy="905" rx="3" ry="5" transform="rotate(25 1218 905)" stroke-width="2" fill="none"/>
<path d="M1179,979 L1200,940" stroke-width="2" fill="none" />
<path d="M1213,918 L1203,940" stroke-width="2" fill="none" />
<path d="M1237,911 L1274,929 M1232,922 L1269,940 M1237,911 Q1229,912 1232,922" stroke-width="2" fill="none" />
<path d="M1239.0,912.5 Q1235.0,917.5 1236.0,922.5" stroke-width="1.8" fill="none" />
<path d="M1243.4,914.8 Q1239.4,919.8 1240.4,924.8" stroke-width="1.8" fill="none" />
<path d="M1247.8,917.1 Q1243.8,922.1 1244.8,927.1" stroke-width="1.8" fill="none" />
<path d="M1252.2,919.4 Q1248.2,924.4 1249.2,929.4" stroke-width="1.8" fill="none" />
<path d="M1256.6,921.7 Q1252.6,926.7 1253.6,931.7" stroke-width="1.8" fill="none" />
<path d="M1261.0,924.0 Q1257.0,929.0 1258.0,934.0" stroke-width="1.8" fill="none" />
<path d="M1265.4,926.3 Q1261.4,931.3 1262.4,936.3" stroke-width="1.8" fill="none" />
<path d="M1269.8,928.6 Q1265.8,933.6 1266.8,938.6" stroke-width="1.8" fill="none" />
<ellipse cx="1284" cy="945" rx="11" ry="14" transform="rotate(25 1284 945)" stroke-width="2" fill="none"/>
<ellipse cx="1286" cy="945" rx="6" ry="8" transform="rotate(25 1286 945)" stroke-width="2" fill="none"/>
<path d="M1300,950 L1310,958" stroke-width="2" fill="none" />
<path d="M1276,959 L1260,992" stroke-width="2" fill="none" />
<ellipse cx="1404.5" cy="977" rx="43" ry="78" transform="rotate(30 1404.5 977)" stroke-width="2" fill="none"/>
<ellipse cx="1386.5" cy="971" rx="43" ry="78" transform="rotate(30 1386.5 971)" stroke-width="2" fill="#fff"/>
<ellipse cx="1404.5" cy="977" rx="33" ry="68" transform="rotate(30 1404.5 977)" stroke-width="2" fill="none"/>
<path d="M1343.5,971 A43,78 0 1 0 1429.5,971 A43,78 0 1 0 1343.5,971 Z M1353.5,971 A33,68 0 1 0 1419.5,971 A33,68 0 1 0 1353.5,971 Z" fill="#fff" fill-rule="evenodd" stroke-width="2" transform="rotate(30 1386.5 971)"/>
<ellipse cx="1398" cy="975" rx="36" ry="71" transform="rotate(30 1398 975)" stroke-width="1.4" fill="none"/>
<path d="M1356,1033 Q1364,1040 1374,1038 Q1366,1036 1360,1030 Z" stroke-width="2" fill="#000" />
<path d="M1418.4,985.6 L1442,997.6" stroke-width="2" fill="none" />
<path d="M1424,863 L1402,902" stroke-width="2" fill="none" />
<path d="M1338,940.6 L1469,1014.5" stroke-width="2" fill="none" stroke-dasharray="10 16"/>
<ellipse cx="368.5" cy="811" rx="4.5" ry="3" transform="rotate(-15 368.5 811)" stroke-width="1.8" fill="none"/>
<ellipse cx="369.3" cy="816" rx="4.5" ry="3" transform="rotate(-15 369.3 816)" stroke-width="1.8" fill="none"/>
<ellipse cx="370.1" cy="821" rx="4.5" ry="3" transform="rotate(-15 370.1 821)" stroke-width="1.8" fill="none"/>
<ellipse cx="370.9" cy="826" rx="4.5" ry="3" transform="rotate(-15 370.9 826)" stroke-width="1.8" fill="none"/>
<path d="M373,814 L375,856" stroke-width="2" fill="none" />
<ellipse cx="372" cy="849" rx="17" ry="9" stroke-width="2" fill="none"/>
<ellipse cx="373" cy="849" rx="10" ry="6" stroke-width="2" fill="none"/>
<path d="M323,842 L348,828" stroke-width="2" fill="none" />
<path d="M328,871 L353,858" stroke-width="2" fill="none" />
<path d="M369,874 Q370,866 380,866 Q391,866 392,873 L398,914 M369,874 L377,918" stroke-width="2" fill="none" />
<path d="M370,876 Q381,881 392,873" stroke-width="2" fill="none" />
<circle cx="383" cy="889" r="1.2" stroke-width="2" fill="#000"/>
<path d="M378,900 L395,896 M379,905 L396,902 M380,910 L396,907" stroke-width="2" fill="none" />
<path d="M368,925 Q368,914 390,912 Q412,912 413,922 L413,934 Q410,946 390,947 Q370,946 368,936 Z" stroke-width="2" fill="none" />
<path d="M368,925 Q372,934 390,933 Q410,932 413,922" stroke-width="2" fill="none" />
<path d="M368,927 Q371,936 390,937.5 Q409,936 413,926 L413,935 Q410,946 390,947.5 Q370,946 368.5,936 Z" stroke-width="1.5" fill="#000" />
<path d="M376,938 L376,944 M383,939 L383,946 M391,939.5 L391,946 M399,939 L399,945.5 M406,937.5 L406,943.5" stroke-width="1.6" fill="none" stroke="#fff"/>
<path d="M335,931 L362,915" stroke-width="2" fill="none" />
<path d="M416.7,836.7 L430,832.5 L440.8,835 L446.7,845 L447.5,853.3 L440,861.7 L425,865.8 L416.7,861.7 L411.7,850 L412.5,841.7 Z" stroke-width="2.4" fill="none" />
<ellipse cx="428" cy="844.5" rx="9.5" ry="5.5" transform="rotate(-10 428 844.5)" stroke-width="2" fill="none"/>
<path d="M412,851 Q420,856 432,855 Q442,853 447,846" stroke-width="2" fill="none" />
<path d="M410,820 L419,833" stroke-width="2" fill="none" />
<path d="M444,842 L459,830" stroke-width="2" fill="none" />
<path d="M436,871 L443.8,868.8 L456.7,891 L449.7,894.5 L434.5,873.5 Z" stroke-width="2" fill="none" />
<path d="M449.7,894.5 L454.3,906.2 M456.7,891 L460,903" stroke-width="2" fill="none" />
<path d="M454.3,906.2 L463.7,905 L475.3,926 Q474,931 470.7,931.8 L464.8,930.7 L454.3,912 Z" stroke-width="2" fill="none" />
<path d="M438,877 L446,873" stroke-width="2" fill="none" />
<path d="M445,889 L454,885" stroke-width="2" fill="none" />
<path d="M473,914 L497,899" stroke-width="2" fill="none" />
<circle cx="482" cy="944" r="8.5" stroke-width="3" fill="none"/>
<path d="M480,946 L486,944" stroke-width="2" fill="none" />
<path d="M493,936 L509,927" stroke-width="2" fill="none" />
<path d="M488,957 L494,967" stroke-width="2" fill="none" />
<ellipse cx="496.0" cy="973" rx="8" ry="4" transform="rotate(25 496.0 973)" stroke-width="2" fill="none"/>
<ellipse cx="499.5" cy="978" rx="8" ry="4" transform="rotate(25 499.5 978)" stroke-width="2" fill="none"/>
<ellipse cx="503.0" cy="983" rx="8" ry="4" transform="rotate(25 503.0 983)" stroke-width="2" fill="none"/>
<ellipse cx="506.5" cy="988" rx="8" ry="4" transform="rotate(25 506.5 988)" stroke-width="2" fill="none"/>
<path d="M512,974 L532,962" stroke-width="2" fill="none" />
<path d="M503,1022 L502,1032 Q506,1038 520,1040 Q534,1040 542,1034 L544,1024 L541,1018 Q538,1016 536,1018 L505,1018 Z" stroke-width="2" fill="none" />
<path d="M510,1012 L510,1028 Q518,1032 532,1028 L531.7,1012 Z" stroke-width="1.5" fill="#000" />
<path d="M512,1016 L530,1016 M512,1021 L530,1021 M512,1026 L529,1026" stroke-width="1.2" fill="none" stroke="#fff"/>
<ellipse cx="518" cy="1006" rx="12" ry="8.5" transform="rotate(-5 518 1006)" stroke-width="2" fill="#fff"/>
<ellipse cx="518.5" cy="1005" rx="6" ry="4.5" transform="rotate(-5 518.5 1005)" stroke-width="2" fill="none"/>
<path d="M546,1012 L570,1000" stroke-width="2" fill="none" />
</g>
<g class="lb">
<text x="118.5" y="270"><tspan style="fill:none;stroke:none">1</tspan></text>
<text x="411.0" y="345">2</text>
<text x="333.0" y="441">28</text>
<text x="334.5" y="477">29</text>
<text x="337.0" y="510">30</text>
<text x="73.5" y="525">26</text>
<text x="107.5" y="560">27</text>
<text x="172.5" y="673">3<tspan style="fill:none;stroke:none">1</tspan></text>
<text x="147.0" y="734">32</text>
<text x="251.5" y="760">33</text>
<text x="554.0" y="462">3</text>
<text x="550.5" y="509" style="font-size:21px">4</text>
<text x="602.0" y="558">5</text>
<text x="626.5" y="569">6</text>
<text x="688.0" y="592">7</text>
<text x="486.5" y="730">4<tspan style="fill:none;stroke:none">1</tspan></text>
<text x="685.0" y="827">42</text>
<text x="735.5" y="286">8</text>
<text x="928.5" y="272.5">9</text>
<text x="897.0" y="388"><tspan style="fill:none;stroke:none">1</tspan>0</text>
<text x="1028.8" y="319.4"><tspan style="fill:none;stroke:none">1</tspan><tspan style="fill:none;stroke:none">1</tspan></text>
<text x="947.0" y="444"><tspan style="fill:none;stroke:none">1</tspan>2</text>
<text x="1049.5" y="436"><tspan style="fill:none;stroke:none">1</tspan>3</text>
<text x="1121.5" y="466"><tspan style="fill:none;stroke:none">1</tspan>4</text>
<text x="1167.0" y="510"><tspan style="fill:none;stroke:none">1</tspan>5</text>
<text x="1075.5" y="676"><tspan style="fill:none;stroke:none">1</tspan>6</text>
<text x="1246.5" y="533"><tspan style="fill:none;stroke:none">1</tspan>7</text>
<text x="1206.0" y="763"><tspan style="fill:none;stroke:none">1</tspan>8</text>
<text x="1346.5" y="600"><tspan style="fill:none;stroke:none">1</tspan>9</text>
<text x="1386.5" y="666">20</text>
<text x="878.5" y="819">2<tspan style="fill:none;stroke:none">1</tspan></text>
<text x="1030.0" y="945">22</text>
<text x="1164.0" y="1007">23</text>
<text x="1247.5" y="1021">24</text>
<text x="1429.0" y="854">25</text>
<text x="297.0" y="847">34</text>
<text x="301.0" y="891">35</text>
<text x="309.0" y="950">36</text>
<text x="480.5" y="829">43</text>
<text x="519.5" y="884">37</text>
<text x="535.5" y="924">38</text>
<text x="557.0" y="963">39</text>
<text x="598.5" y="997">40</text>
<g stroke="#000" fill="none"><path d="M119.15,250.90 L119.15,270.00" stroke-width="2.90" stroke-linecap="butt"/><path d="M118.85,251.50 L113.55,256.10" stroke-width="2.70" stroke-linecap="round"/><path d="M180.11,653.90 L180.11,673.00" stroke-width="2.90" stroke-linecap="butt"/><path d="M179.81,654.50 L174.51,659.10" stroke-width="2.70" stroke-linecap="round"/><path d="M494.11,710.90 L494.11,730.00" stroke-width="2.90" stroke-linecap="butt"/><path d="M493.81,711.50 L488.51,716.10" stroke-width="2.70" stroke-linecap="round"/><path d="M890.70,368.90 L890.70,388.00" stroke-width="2.90" stroke-linecap="butt"/><path d="M890.40,369.50 L885.10,374.10" stroke-width="2.70" stroke-linecap="round"/><path d="M1022.55,300.30 L1022.55,319.40" stroke-width="2.90" stroke-linecap="butt"/><path d="M1022.25,300.90 L1016.95,305.50" stroke-width="2.70" stroke-linecap="round"/><path d="M1036.46,300.30 L1036.46,319.40" stroke-width="2.90" stroke-linecap="butt"/><path d="M1036.16,300.90 L1030.86,305.50" stroke-width="2.70" stroke-linecap="round"/><path d="M940.70,424.90 L940.70,444.00" stroke-width="2.90" stroke-linecap="butt"/><path d="M940.40,425.50 L935.10,430.10" stroke-width="2.70" stroke-linecap="round"/><path d="M1043.20,416.90 L1043.20,436.00" stroke-width="2.90" stroke-linecap="butt"/><path d="M1042.90,417.50 L1037.60,422.10" stroke-width="2.70" stroke-linecap="round"/><path d="M1115.20,446.90 L1115.20,466.00" stroke-width="2.90" stroke-linecap="butt"/><path d="M1114.90,447.50 L1109.60,452.10" stroke-width="2.70" stroke-linecap="round"/><path d="M1160.70,490.90 L1160.70,510.00" stroke-width="2.90" stroke-linecap="butt"/><path d="M1160.40,491.50 L1155.10,496.10" stroke-width="2.70" stroke-linecap="round"/><path d="M1069.20,656.90 L1069.20,676.00" stroke-width="2.90" stroke-linecap="butt"/><path d="M1068.90,657.50 L1063.60,662.10" stroke-width="2.70" stroke-linecap="round"/><path d="M1240.20,513.90 L1240.20,533.00" stroke-width="2.90" stroke-linecap="butt"/><path d="M1239.90,514.50 L1234.60,519.10" stroke-width="2.70" stroke-linecap="round"/><path d="M1199.70,743.90 L1199.70,763.00" stroke-width="2.90" stroke-linecap="butt"/><path d="M1199.40,744.50 L1194.10,749.10" stroke-width="2.70" stroke-linecap="round"/><path d="M1340.20,580.90 L1340.20,600.00" stroke-width="2.90" stroke-linecap="butt"/><path d="M1339.90,581.50 L1334.60,586.10" stroke-width="2.70" stroke-linecap="round"/><path d="M886.11,799.90 L886.11,819.00" stroke-width="2.90" stroke-linecap="butt"/><path d="M885.81,800.50 L880.51,805.10" stroke-width="2.70" stroke-linecap="round"/></g>
</g>
<rect x="0" y="1371" width="1500" height="1.3" fill="#000"/>
<rect x="31" y="1406" width="215" height="60" fill="#807f84"/>
<g fill="#fff">
<path d="M66.7,1417.3 L85.3,1436 L66.7,1454.7 L57,1445 L57,1427 Z"/>
<path d="M56,1426 L70,1426 Q77,1427 76.5,1436 Q77,1445 70,1446 L56,1446 Z" fill="#807f84"/>
<rect x="47.3" y="1429.6" width="21.4" height="3.4" rx="1.7"/>
<rect x="47.3" y="1437.6" width="21.4" height="3.4" rx="1.7"/>
<path d="M95.5,1422 L118,1422 Q124,1422 124,1428 L124,1442.7 Q124,1448.7 118,1448.7 L96,1448.7 L94,1446.5 L94,1441.3 L116,1441.3 L116,1438.7 L104,1438.7 L104,1431.3 L116,1431.3 L116,1429.3 L94,1429.3 L94,1423.5 Z"/>
<path d="M127.3,1422 L135.3,1422 L135.3,1431.3 L150.7,1431.3 L150.7,1422 L158,1422 L158,1442.7 Q158,1448.7 152,1448.7 L128,1448.7 L128,1441.3 L150.7,1441.3 L150.7,1438.7 L131,1438.7 Q127.3,1438.7 127.3,1435 Z"/>
<path d="M163.3,1422 L194.7,1422 L194.7,1429.3 L171.3,1429.3 L171.3,1431.3 L188.7,1431.3 Q194.7,1431.3 194.7,1437.3 L194.7,1442.7 Q194.7,1448.7 188.7,1448.7 L163.3,1448.7 Z M172.7,1438 L172.7,1442 L186.7,1442 L186.7,1438 Z" fill-rule="evenodd"/>
<path d="M198.7,1422 L224.7,1422 Q230.7,1422 230.7,1428 L230.7,1434.7 Q230.7,1440.7 224.7,1440.7 L206.7,1440.7 L206.7,1448.7 L198.7,1448.7 Z M208,1429.3 L208,1433.3 L222.7,1433.3 L222.7,1429.3 Z" fill-rule="evenodd"/>
</g>
<text x="289" y="1451.5" font-family="Liberation Sans, sans-serif" font-size="36.5" fill="#000" stroke="#000" stroke-width="0.3" textLength="108" lengthAdjust="spacingAndGlyphs">64285.</text>
<text x="407" y="1451.5" font-family="Liberation Sans, sans-serif" font-size="33.5" fill="#000" stroke="#fff" stroke-width="0.9" paint-order="normal" textLength="763" lengthAdjust="spacingAndGlyphs">Схема 1-1 (Схема-состав. Пневмогайковерт ударный)</text>
</svg>
</body></html>
